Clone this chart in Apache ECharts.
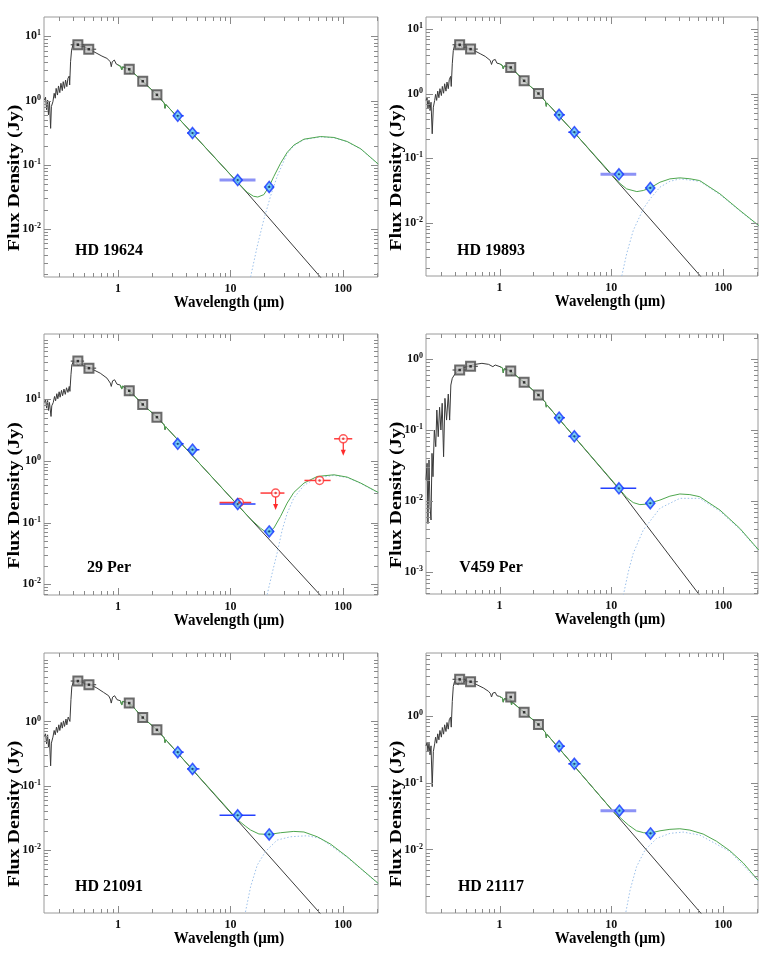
<!DOCTYPE html>
<html>
<head>
<meta charset="utf-8">
<script src="https://cdn.jsdelivr.net/npm/echarts@6/dist/echarts.min.js"></script>
<style>
html, body { margin: 0; padding: 0; background: #fff; }
#chart { width: 763px; height: 954px; }
</style>
</head>
<body>
<div id="chart"></div>
<script>
// ---- shared axis values ----
const xRange = [0.22, 205];
const xTickValues = [1, 10, 100];
const xMinorValues = [0.3, 0.4, 0.5, 0.6, 0.7, 0.8, 0.9, 2, 3, 4, 5, 6, 7, 8, 9, 20, 30, 40, 50, 60, 70, 80, 90, 200];
const bvBands = [[0.38, 0.50], [0.50, 0.64]];
const wiseBands = [[3.09, 3.84], [4.12, 5.3], [8.0, 16.7], [20.2, 24.3]];
const irasBands = [[8.0, 15.3], [18.5, 30.2], [45.5, 77.7], [83.5, 121]];

// ---- HD 19624 ----
const hd19624Star = [[0.222,1.02],[0.227,1.13],[0.232,0.72],[0.237,1.02],[0.241,0.60],[0.246,0.96],[0.252,0.37],[0.256,0.81],[0.264,0.96],[0.271,1.30],[0.277,1.09],[0.282,1.55],[0.290,1.22],[0.296,1.69],[0.304,1.33],[0.311,1.86],[0.320,1.43],[0.326,1.97],[0.335,1.55],[0.342,2.09],[0.351,1.65],[0.359,2.22],[0.369,2.41],[0.372,1.75],[0.379,4.03],[0.387,6.1],[0.397,7.3],[0.409,7.94],[0.426,7.6],[0.447,7.76],[0.462,6.9],[0.495,7.0],[0.530,6.5],[0.587,5.97],[0.650,5.43],[0.720,4.93],[0.798,4.54],[0.855,4.03],[0.872,3.37],[0.890,4.03],[0.928,4.28],[0.966,3.71],[1.0,3.58],[1.06,3.4],[1.08,3.0],[1.10,3.35],[1.26,3.07],[1.28,2.6],[1.30,2.95],[1.66,2.0],[2.22,1.23],[2.58,0.91],[2.62,0.76],[2.66,0.873],[14.1,0.0365],[62.1,0.00185],[100,0.00071]];
const hd19624Total = [[1.0,3.58],[1.06,3.4],[1.08,3.0],[1.10,3.35],[1.26,3.07],[1.28,2.6],[1.30,2.95],[1.66,2.0],[2.22,1.23],[2.58,0.91],[2.62,0.76],[2.66,0.873],[11.7,0.0525],[14.1,0.0375],[16.0,0.0325],[17.5,0.0316],[19.8,0.0344],[22.1,0.0463],[24.3,0.066],[27.9,0.106],[31.9,0.156],[36.6,0.203],[45,0.251],[63.2,0.276],[83.2,0.267],[109,0.231],[144,0.178],[206,0.103]];
const hd19624Disk = [[15.1,0.0018],[17.3,0.0054],[19.8,0.0141],[22.7,0.0324],[26.0,0.066],[31.9,0.150],[36.6,0.198],[45,0.247],[63.2,0.272],[83.2,0.264],[109,0.229],[144,0.176],[206,0.102]];
const hd19624Opt = [[0.44,7.4],[0.55,6.3],[1.26,3.07],[1.66,2.0],[2.22,1.23]];
const hd19624Wise = [[3.4,0.58],[4.6,0.313],[11.6,0.058],[22.1,0.0454]];
const hd19624YRange = [0.0018, 20];
const hd19624YTicks = [0.01, 0.1, 1, 10];

// ---- HD 19893 ----
const hd19893Star = [[0.22,0.79],[0.225,0.87],[0.229,0.585],[0.234,0.79],[0.239,0.55],[0.244,0.74],[0.250,0.24],[0.256,0.62],[0.263,0.79],[0.268,0.98],[0.274,0.79],[0.280,1.10],[0.287,0.87],[0.293,1.2],[0.302,0.94],[0.308,1.3],[0.316,1.02],[0.323,1.43],[0.332,1.10],[0.339,1.52],[0.348,1.2],[0.355,1.65],[0.365,1.86],[0.370,1.3],[0.378,2.92],[0.386,4.7],[0.396,5.63],[0.41,5.97],[0.43,5.0],[0.445,5.83],[0.461,5.17],[0.494,5.3],[0.547,4.93],[0.606,4.59],[0.672,4.18],[0.745,3.8],[0.826,3.29],[0.848,2.85],[0.872,3.29],[0.915,3.41],[0.947,2.99],[1.0,2.92],[1.06,2.75],[1.08,2.45],[1.10,2.7],[1.26,2.56],[1.28,2.2],[1.30,2.45],[1.66,1.59],[2.23,1.01],[2.58,0.76],[2.62,0.64],[2.66,0.722],[4.65,0.252],[61.7,0.00154],[100,0.00059]];
const hd19893Total = [[1.0,2.92],[1.06,2.75],[1.08,2.45],[1.10,2.7],[1.26,2.56],[1.28,2.2],[1.30,2.45],[1.66,1.59],[2.23,1.01],[2.58,0.76],[2.62,0.64],[2.66,0.722],[4.65,0.252],[11.9,0.041],[13.7,0.0336],[16.9,0.0305],[19.3,0.0317],[22.3,0.0348],[27.2,0.0426],[33.4,0.048],[41,0.0498],[50.4,0.0482],[61.7,0.0452],[93.5,0.0282],[141,0.0156],[208,0.0091]];
const hd19893Disk = [[12.4,0.0015],[13.7,0.0033],[15.7,0.0076],[19.3,0.0165],[22.3,0.0237],[27.2,0.0357],[33.4,0.044],[41,0.048],[61.7,0.044],[93.5,0.0275],[141,0.0153],[208,0.0089]];
const hd19893Opt = [[0.44,5.76],[0.551,4.93],[1.26,2.56],[1.66,1.59],[2.23,1.01]];
const hd19893Wise = [[3.41,0.472],[4.67,0.254],[11.7,0.0566],[22.3,0.0348]];
const hd19893YRange = [0.0015, 15.5];
const hd19893YTicks = [0.01, 0.1, 1, 10];

// ---- 29 Per ----
const per29Star = [[0.222,8.58],[0.227,9.96],[0.232,7.12],[0.237,9.48],[0.241,6.53],[0.246,8.8],[0.254,5.22],[0.258,7.77],[0.266,8.8],[0.273,11.0],[0.279,9.36],[0.286,12.2],[0.292,10.1],[0.300,13.1],[0.306,10.7],[0.315,13.8],[0.322,11.3],[0.331,14.5],[0.340,11.9],[0.349,15.2],[0.359,12.8],[0.369,16.0],[0.374,13.3],[0.382,24.7],[0.389,35.8],[0.403,40.5],[0.426,39.1],[0.443,34.5],[0.462,38.1],[0.495,34.5],[0.548,32.8],[0.607,29.7],[0.696,26.2],[0.798,21.8],[0.855,18.1],[0.872,16.0],[0.896,19.7],[0.934,20.5],[0.98,17.4],[1.05,16.8],[1.08,14.5],[1.10,16.2],[1.26,13.6],[1.28,11.5],[1.30,13.0],[1.66,8.17],[2.22,5.09],[2.58,3.8],[2.62,3.2],[2.66,3.56],[62.4,0.00677],[100,0.00265]];
const per29Total = [[1.05,16.8],[1.08,14.5],[1.10,16.2],[1.26,13.6],[1.28,11.5],[1.30,13.0],[1.66,8.17],[2.22,5.09],[2.58,3.8],[2.62,3.2],[2.66,3.56],[15.1,0.114],[18.5,0.081],[21.2,0.0675],[22.1,0.0705],[24.3,0.081],[27.9,0.126],[31.9,0.206],[36.6,0.307],[45,0.435],[59.1,0.557],[83.2,0.593],[109,0.544],[144,0.435],[206,0.307]];
const per29Disk = [[21.2,0.0068],[23.5,0.0152],[26.0,0.032],[28.8,0.075],[31.9,0.14],[36.6,0.25],[45,0.40],[59.1,0.53],[83.2,0.58],[109,0.535],[144,0.43],[206,0.30]];
const per29Opt = [[0.44,41.1],[0.552,31.6],[1.26,13.6],[1.66,8.17],[2.22,5.09]];
const per29Wise = [[3.4,1.88],[4.6,1.51],[11.6,0.199],[22.1,0.0718]];
const per29Iras = [[12.0,0.211],[25.2,0.30],[62,0.48],[100.7,2.27]];
const per29IrasLimitTips = [null, 0.165, null, 1.25];
const per29YRange = [0.0067, 113];
const per29YTicks = [0.01, 0.1, 1, 10];

// ---- V459 Per ----
const v459Star = [[0.22,0.0198],[0.225,0.034],[0.229,0.0048],[0.234,0.0378],[0.239,0.0083],[0.244,0.0054],[0.249,0.0469],[0.254,0.022],[0.261,0.1],[0.269,0.0582],[0.275,0.191],[0.283,0.0805],[0.291,0.209],[0.299,0.1],[0.307,0.238],[0.316,0.042],[0.325,0.279],[0.336,0.138],[0.348,0.321],[0.358,0.138],[0.367,0.43],[0.378,0.535],[0.394,0.595],[0.416,0.663],[0.461,0.74],[0.529,0.797],[0.606,0.841],[0.696,0.869],[0.798,0.841],[0.872,0.78],[0.915,0.823],[1.01,0.78],[1.06,0.75],[1.08,0.64],[1.10,0.73],[1.26,0.678],[1.28,0.58],[1.30,0.65],[1.66,0.469],[2.23,0.311],[2.58,0.245],[2.62,0.21],[2.66,0.225],[11.9,0.0143],[61.7,0.00047],[100,0.000174]];
const v459Total = [[1.01,0.78],[1.06,0.75],[1.08,0.64],[1.10,0.73],[1.26,0.678],[1.28,0.58],[1.30,0.65],[1.66,0.469],[2.23,0.311],[2.58,0.245],[2.62,0.21],[2.66,0.225],[11.9,0.0146],[13.7,0.0112],[15.7,0.0095],[18.0,0.0089],[20.0,0.0090],[22.3,0.0094],[27.2,0.0103],[33.4,0.0117],[41,0.01256],[50.4,0.0123],[61.7,0.0115],[93.5,0.00747],[141,0.00412],[208,0.00204]];
const v459Disk = [[12.8,0.00047],[14.2,0.00101],[15.7,0.00183],[19.3,0.0039],[27.2,0.0079],[41,0.0109],[61.7,0.0109],[93.5,0.0072],[141,0.0040],[208,0.0020]];
const v459Opt = [[0.44,0.70],[0.551,0.788],[1.26,0.678],[1.66,0.469],[2.23,0.311]];
const v459Wise = [[3.41,0.149],[4.67,0.0814],[11.7,0.0151],[22.3,0.0093]];
const v459YRange = [0.00049, 2.25];
const v459YTicks = [0.001, 0.01, 0.1, 1];

// ---- HD 21091 ----
const hd21091Star = [[0.222,0.584],[0.227,0.642],[0.232,0.449],[0.237,0.62],[0.241,0.398],[0.246,0.531],[0.252,0.204],[0.256,0.46],[0.264,0.57],[0.271,0.724],[0.277,0.62],[0.284,0.816],[0.290,0.674],[0.298,0.887],[0.304,0.724],[0.313,0.965],[0.320,0.787],[0.328,1.02],[0.335,0.836],[0.345,1.09],[0.351,0.887],[0.361,1.17],[0.369,1.22],[0.374,1.0],[0.382,2.18],[0.389,3.51],[0.403,4.15],[0.426,4.3],[0.447,3.82],[0.469,4.15],[0.512,3.86],[0.567,3.73],[0.650,3.31],[0.745,2.83],[0.826,2.51],[0.855,2.23],[0.872,1.93],[0.896,2.39],[0.934,2.51],[0.98,2.18],[1.05,2.1],[1.08,1.8],[1.10,2.05],[1.26,1.93],[1.28,1.65],[1.30,1.85],[1.66,1.15],[2.22,0.741],[2.58,0.555],[2.62,0.47],[2.66,0.52],[61.1,0.00109],[100,0.00042]];
const hd21091Total = [[1.05,2.1],[1.08,1.8],[1.10,2.05],[1.26,1.93],[1.28,1.65],[1.30,1.85],[1.66,1.15],[2.22,0.741],[2.58,0.555],[2.62,0.47],[2.66,0.52],[11.6,0.0295],[13.6,0.0235],[15.1,0.0205],[17.9,0.0178],[22.1,0.0175],[27.9,0.0186],[36.6,0.0195],[45,0.0191],[59.1,0.0161],[77.6,0.0124],[109,0.00787],[144,0.00518],[206,0.00303]];
const hd21091Disk = [[13.6,0.00109],[15.1,0.00268],[17.3,0.00583],[20.5,0.0095],[26.0,0.0143],[34.2,0.0161],[48.1,0.0167],[63.2,0.0152],[109,0.0077],[206,0.0030]];
const hd21091Opt = [[0.44,4.25],[0.552,3.73],[1.26,1.93],[1.66,1.15],[2.22,0.741]];
const hd21091Wise = [[3.4,0.333],[4.6,0.183],[11.6,0.0347],[22.1,0.0175]];
const hd21091YRange = [0.00105, 11.6];
const hd21091YTicks = [0.01, 0.1, 1];

// ---- HD 21117 ----
const hd21117Star = [[0.22,0.355],[0.225,0.398],[0.229,0.292],[0.234,0.389],[0.239,0.26],[0.244,0.355],[0.250,0.087],[0.256,0.292],[0.263,0.38],[0.268,0.479],[0.274,0.389],[0.280,0.537],[0.287,0.437],[0.293,0.603],[0.302,0.479],[0.308,0.668],[0.316,0.531],[0.323,0.733],[0.332,0.582],[0.339,0.794],[0.348,0.631],[0.355,0.871],[0.365,0.955],[0.370,0.676],[0.378,1.64],[0.386,2.75],[0.396,3.27],[0.41,3.47],[0.427,2.92],[0.445,3.55],[0.464,3.02],[0.494,3.39],[0.547,3.24],[0.627,2.92],[0.72,2.6],[0.798,2.32],[0.831,2.14],[0.848,1.91],[0.872,2.19],[0.915,2.24],[0.947,2.0],[1.0,1.95],[1.06,1.85],[1.08,1.6],[1.10,1.8],[1.26,1.75],[1.28,1.45],[1.30,1.6],[1.66,1.13],[2.23,0.741],[2.58,0.56],[2.62,0.47],[2.66,0.526],[61.9,0.00116],[100,0.00045]];
const hd21117Total = [[1.0,1.95],[1.06,1.85],[1.08,1.6],[1.10,1.8],[1.26,1.75],[1.28,1.45],[1.30,1.6],[1.66,1.13],[2.23,0.741],[2.58,0.56],[2.62,0.47],[2.66,0.526],[11.0,0.0332],[11.9,0.0303],[14.2,0.0232],[16.8,0.019],[19.5,0.0178],[22.4,0.0176],[27.2,0.019],[33.4,0.02],[41,0.0204],[50.4,0.0195],[66.3,0.017],[87.1,0.0133],[115,0.00955],[151,0.0063],[205,0.00347]];
const hd21117Disk = [[13.5,0.00116],[14.7,0.00245],[16.8,0.0055],[20.0,0.0098],[25.4,0.0146],[33.4,0.0174],[43.9,0.0182],[61.9,0.0164],[115,0.0093],[205,0.0034]];
const hd21117Opt = [[0.44,3.51],[0.551,3.24],[1.26,1.91],[1.66,1.13],[2.23,0.741]];
const hd21117Wise = [[3.41,0.351],[4.67,0.191],[11.8,0.038],[22.4,0.0174]];
const hd21117YRange = [0.00112, 8.7];
const hd21117YTicks = [0.01, 0.1, 1];

// layout: [left, top, width, height] of each plot box
const panels = [
  { label: 'HD 19624', star: hd19624Star, total: hd19624Total, disk: hd19624Disk, opt: hd19624Opt, wise: hd19624Wise, yRange: hd19624YRange, yTicks: hd19624YTicks, box: [44, 17, 334, 260], lightW3: true },
  { label: 'HD 19893', star: hd19893Star, total: hd19893Total, disk: hd19893Disk, opt: hd19893Opt, wise: hd19893Wise, yRange: hd19893YRange, yTicks: hd19893YTicks, box: [426, 17, 332, 259], lightW3: true },
  { label: '29 Per', star: per29Star, total: per29Total, disk: per29Disk, opt: per29Opt, wise: per29Wise, yRange: per29YRange, yTicks: per29YTicks, box: [44, 334, 334, 261], lightW3: false, iras: per29Iras, irasTips: per29IrasLimitTips },
  { label: 'V459 Per', star: v459Star, total: v459Total, disk: v459Disk, opt: v459Opt, wise: v459Wise, yRange: v459YRange, yTicks: v459YTicks, box: [426, 334, 332, 260], lightW3: false },
  { label: 'HD 21091', star: hd21091Star, total: hd21091Total, disk: hd21091Disk, opt: hd21091Opt, wise: hd21091Wise, yRange: hd21091YRange, yTicks: hd21091YTicks, box: [44, 653, 334, 260], lightW3: false },
  { label: 'HD 21117', star: hd21117Star, total: hd21117Total, disk: hd21117Disk, opt: hd21117Opt, wise: hd21117Wise, yRange: hd21117YRange, yTicks: hd21117YTicks, box: [426, 653, 332, 260], lightW3: true }
];

const serif = '"Liberation Serif", "Times New Roman", serif';
const frameColor = '#9a9a9a';
const tickColor = '#8a8a8a';

function yMinorTicks(range) {
  const out = [];
  for (let e = -5; e <= 3; e++) {
    for (let m = 2; m <= 9; m++) {
      const v = m * Math.pow(10, e);
      if (v > range[0] && v < range[1]) out.push(v);
    }
  }
  return out;
}

function hbar(colorFn, widthFn) {
  return function (params, api) {
    const a = api.coord([api.value(0), api.value(2)]);
    const b = api.coord([api.value(1), api.value(2)]);
    return { type: 'line', shape: { x1: a[0], y1: a[1], x2: b[0], y2: b[1] },
      style: { stroke: colorFn(params.dataIndex), lineWidth: widthFn(params.dataIndex) } };
  };
}

const grids = [], xAxes = [], yAxes = [], series = [], graphics = [];

panels.forEach((p, i) => {
  const [L, T, W, H] = p.box;
  grids.push({ left: L, top: T, width: W, height: H, show: true, borderColor: frameColor, borderWidth: 1, backgroundColor: 'transparent' });
  xAxes.push({
    gridIndex: i, type: 'log', logBase: 10, min: xRange[0], max: xRange[1],
    axisLine: { show: false }, axisTick: { show: false }, splitLine: { show: false },
    axisLabel: { customValues: xTickValues, margin: 6, fontFamily: serif, fontWeight: 'bold', fontSize: 12, color: '#111' }
  });
  yAxes.push({
    gridIndex: i, type: 'log', logBase: 10, min: p.yRange[0], max: p.yRange[1],
    axisLine: { show: false }, axisTick: { show: false }, splitLine: { show: false },
    axisLabel: {
      customValues: p.yTicks, margin: 3,
      formatter: v => '{b|10}{e|' + Math.round(Math.log10(v)) + '}',
      rich: {
        b: { fontFamily: serif, fontWeight: 'bold', fontSize: 12, color: '#111', lineHeight: 14 },
        e: { fontFamily: serif, fontWeight: 'bold', fontSize: 8, color: '#111', verticalAlign: 'top', lineHeight: 8 }
      }
    }
  });

  const ax = { xAxisIndex: i, yAxisIndex: i };
  series.push(Object.assign({ type: 'line', data: p.star, showSymbol: false, symbol: 'none', clip: true, z: 2,
    lineStyle: { color: '#3a3a3a', width: 1 } }, ax));
  series.push(Object.assign({ type: 'line', data: p.disk, showSymbol: false, symbol: 'none', clip: true, z: 3,
    lineStyle: { color: '#9cc0ea', width: 1, type: [1.5, 2] } }, ax));
  series.push(Object.assign({ type: 'line', data: p.total, showSymbol: false, symbol: 'none', clip: true, z: 4,
    lineStyle: { color: '#4ea64e', width: 1 } }, ax));

  // bandwidth bars
  const optBars = bvBands.map((b, k) => [b[0], b[1], p.opt[k][1]]);
  series.push(Object.assign({ type: 'custom', data: optBars, encode: { x: [0, 1], y: 2 }, z: 5, silent: true,
    renderItem: hbar(() => '#555', () => 1.2) }, ax));
  const wiseBars = wiseBands.map((b, k) => [b[0], b[1], p.wise[k][1]]);
  series.push(Object.assign({ type: 'custom', data: wiseBars, encode: { x: [0, 1], y: 2 }, z: 5, silent: true,
    renderItem: hbar(k => (k === 2 && p.lightW3) ? '#8c92f6' : '#2440ff', k => (k === 2 && p.lightW3) ? 3 : 1.5) }, ax));

  if (p.iras) {
    const irasBars = irasBands.map((b, k) => [b[0], b[1], p.iras[k][1]]);
    series.push(Object.assign({ type: 'custom', data: irasBars, encode: { x: [0, 1], y: 2 }, z: 5, silent: true,
      renderItem: hbar(() => '#ff3a3a', () => 1.5) }, ax));
    const limits = [];
    p.iras.forEach((pt, k) => { if (p.irasTips[k] !== null) limits.push([pt[0], pt[1], p.irasTips[k]]); });
    series.push(Object.assign({ type: 'custom', data: limits, encode: { x: 0, y: [1, 2] }, z: 5, silent: true,
      renderItem: (params, api) => {
        const a = api.coord([api.value(0), api.value(1)]);
        const b = api.coord([api.value(0), api.value(2)]);
        return { type: 'group', children: [
          { type: 'line', shape: { x1: a[0], y1: a[1] + 4, x2: b[0], y2: b[1] - 3 }, style: { stroke: '#ff2a2a', lineWidth: 1.2 } },
          { type: 'polygon', shape: { points: [[b[0] - 2.5, b[1] - 5], [b[0] + 2.5, b[1] - 5], [b[0], b[1] + 1]] }, style: { fill: '#ff2a2a' } }
        ] };
      } }, ax));
    series.push(Object.assign({ type: 'scatter', data: p.iras, symbol: 'circle', symbolSize: 8, z: 6,
      itemStyle: { color: '#fff', borderColor: '#ff3030', borderWidth: 1.5 } }, ax));
    series.push(Object.assign({ type: 'scatter', data: p.iras, symbol: 'circle', symbolSize: 2.5, z: 7,
      itemStyle: { color: '#e02020' } }, ax));
  }

  series.push(Object.assign({ type: 'scatter', data: p.opt, symbol: 'rect', symbolSize: 9, z: 6,
    itemStyle: { color: '#bdbdbd', borderColor: '#4a4a4a', borderWidth: 2 } }, ax));
  series.push(Object.assign({ type: 'scatter', data: p.opt, symbol: 'rect', symbolSize: 2.5, z: 7,
    itemStyle: { color: '#111' } }, ax));
  series.push(Object.assign({ type: 'scatter', data: p.wise, symbol: 'diamond', symbolSize: [9, 11], z: 6,
    itemStyle: { color: '#5cc0f2', borderColor: '#1535ff', borderWidth: 1.6 } }, ax));
  series.push(Object.assign({ type: 'scatter', data: p.wise, symbol: 'circle', symbolSize: 2.2, z: 7,
    itemStyle: { color: '#143060' } }, ax));

  // titles and axis names
  graphics.push({ type: 'text', x: L + 65, y: T + 233, z: 10, silent: true, scaleY: 1.1,
    style: { text: p.label, font: 'bold 16px ' + serif, fill: '#000', align: 'center', verticalAlign: 'middle', textAlign: 'center', textVerticalAlign: 'middle' } });
  graphics.push({ type: 'text', x: L + W / 2 + 18, y: T + H + 26, z: 10, silent: true, scaleY: 1.1,
    style: { text: 'Wavelength (\u03bcm)', font: 'bold 15px ' + serif, fill: '#000', align: 'center', verticalAlign: 'middle', textAlign: 'center', textVerticalAlign: 'middle' } });
  graphics.push({ type: 'text', x: L - 29, y: T + H / 2 + 31, rotation: Math.PI / 2, scaleX: 1.25, z: 10, silent: true,
    style: { text: 'Flux Density (Jy)', font: 'bold 16px ' + serif, fill: '#000', align: 'center', verticalAlign: 'middle', textAlign: 'center', textVerticalAlign: 'middle' } });
});

const chart = echarts.init(document.getElementById('chart'));
chart.setOption({
  animation: false,
  backgroundColor: '#fff',
  grid: grids,
  xAxis: xAxes,
  yAxis: yAxes,
  series: series
});

// inward ticks on all four sides, placed through each panel's own axis scales
function tickLine(x1, y1, x2, y2) {
  return { type: 'line', silent: true, z: 9, shape: { x1, y1, x2, y2 }, style: { stroke: tickColor, lineWidth: 1 } };
}
panels.forEach((p, i) => {
  const [L, T, W, H] = p.box;
  const addX = (v, len) => {
    const x = Math.round(chart.convertToPixel({ xAxisIndex: i }, v)) + 0.5;
    graphics.push(tickLine(x, T + H, x, T + H - len), tickLine(x, T, x, T + len));
  };
  const addY = (v, len) => {
    const y = Math.round(chart.convertToPixel({ yAxisIndex: i }, v)) + 0.5;
    graphics.push(tickLine(L, y, L + len, y), tickLine(L + W, y, L + W - len, y));
  };
  xTickValues.forEach(v => addX(v, 7));
  xMinorValues.filter(v => v > xRange[0] && v < xRange[1]).forEach(v => addX(v, 4));
  p.yTicks.forEach(v => addY(v, 7));
  yMinorTicks(p.yRange).forEach(v => addY(v, 4));
});
chart.setOption({ graphic: { elements: graphics } });
</script>
</body>
</html>
